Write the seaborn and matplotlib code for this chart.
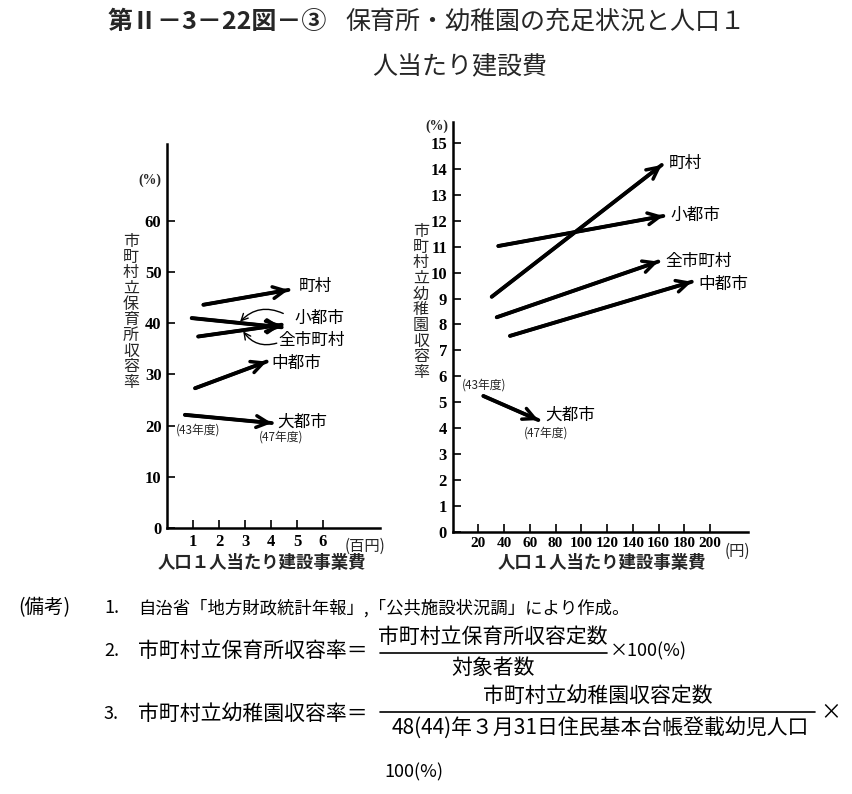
import matplotlib
matplotlib.use("Agg")
import matplotlib.pyplot as plt
import seaborn as sns
import pandas as pd
from matplotlib.lines import Line2D

# left panel: nursery school capacity (%) vs construction cost per person (100 yen)
left_regions = ["町村", "小都市", "全市町村", "中都市", "大都市"]
left_cost43 = [1.40, 0.95, 1.20, 1.08, 0.69]
left_rate43 = [43.6, 41.0, 37.4, 27.3, 22.1]
left_cost47 = [4.67, 4.41, 4.41, 3.83, 4.03]
left_rate47 = [46.5, 39.2, 39.7, 32.5, 20.5]

# right panel: kindergarten capacity (%) vs construction cost per person (yen)
right_regions = ["町村", "小都市", "全市町村", "中都市", "大都市"]
right_cost43 = [30.4, 35.5, 34.3, 44.6, 23.9]
right_rate43 = [9.07, 11.03, 8.28, 7.56, 5.24]
right_cost47 = [162.5, 163.7, 159.8, 185.8, 66.6]
right_rate47 = [14.16, 12.19, 10.43, 9.65, 4.31]

left_xticks = [1, 2, 3, 4, 5, 6]
left_yticks = [0, 10, 20, 30, 40, 50, 60]
right_xticks = [20, 40, 60, 80, 100, 120, 140, 160, 180, 200]
right_yticks = list(range(0, 16))

W, H = 852, 794


def px(x, y):
    return x / W, 1 - y / H


sns.set_theme(style="ticks")
plt.rcParams['font.family'] = ['Noto Sans CJK JP', 'DejaVu Sans']

fig = plt.figure(figsize=(W / 100, H / 100), dpi=100)
fig.patch.set_facecolor("white")

axL = fig.add_axes([167 / W, 1 - 528 / H, 213 / W, 384 / H])
axR = fig.add_axes([452.6 / W, 1 - 531.7 / H, 295.4 / W, 410 / H])


def draw_panel(ax, x43, y43, x47, y47):
    df = pd.DataFrame({
        "region": list(range(len(x43))) * 2,
        "cost": x43 + x47,
        "rate": y43 + y47,
    })
    sns.lineplot(data=df, x="cost", y="rate", units="region", estimator=None,
                 color="black", lw=2.8, ax=ax, legend=False, sort=False)
    for a, b, c, d in zip(x43, y43, x47, y47):
        ax.annotate("", xy=(c, d), xytext=(a, b),
                    arrowprops=dict(arrowstyle="->,head_length=0.7,head_width=0.35",
                                    color="black", lw=2.5, shrinkA=0, shrinkB=0))


def style_axis(ax, xlim, ylim, xticks, yticks, xsize):
    ax.set_xlim(*xlim)
    ax.set_ylim(*ylim)
    ax.set_xticks(xticks)
    ax.set_yticks(yticks)
    ax.set_xlabel("")
    ax.set_ylabel("")
    ax.set_facecolor("white")
    for s in ["top", "right"]:
        ax.spines[s].set_visible(False)
    for s in ["left", "bottom"]:
        ax.spines[s].set_linewidth(1.8)
        ax.spines[s].set_color("black")
    ax.tick_params(direction="in", length=6, width=1.2, colors="black", pad=4)
    for lab in ax.get_yticklabels():
        lab.set_family("Liberation Serif")
        lab.set_fontweight("bold")
        lab.set_fontsize(12)
    for lab in ax.get_xticklabels():
        lab.set_family("Liberation Serif")
        lab.set_fontweight("bold")
        lab.set_fontsize(xsize)


draw_panel(axL, left_cost43, left_rate43, left_cost47, left_rate47)
style_axis(axL, (0, 8.19), (0, 75), left_xticks, left_yticks, 12)
draw_panel(axR, right_cost43, right_rate43, right_cost47, right_rate47)
style_axis(axR, (0, 229.5), (0, 15.83), right_xticks, right_yticks, 11)

lab_kw = dict(fontsize=12, color="black", va="center", ha="left")
# left panel labels
axL.text(5.05, 47.2, left_regions[0], **lab_kw)
axL.text(4.9, 41.0, left_regions[1], **lab_kw)
axL.text(4.3, 36.7, left_regions[2], **lab_kw)
axL.text(4.0, 32.1, left_regions[3], **lab_kw)
axL.text(4.25, 20.6, left_regions[4], **lab_kw)
axL.text(3.55, 17.7, "(47年度)", fontsize=8.5, va="center", ha="left")
axL.text(0.35, 19.2, "(43年度)", fontsize=8.5, va="center", ha="left")
axL.annotate("", xy=(2.81, 40.3), xytext=(4.47, 41.9),
             arrowprops=dict(arrowstyle="->", color="black", lw=1.0,
                             connectionstyle="arc3,rad=0.35", shrinkA=0, shrinkB=0))
axL.annotate("", xy=(2.93, 38.4), xytext=(4.22, 36.1),
             arrowprops=dict(arrowstyle="->", color="black", lw=1.0,
                             connectionstyle="arc3,rad=-0.35", shrinkA=0, shrinkB=0))
axL.text(-0.65, 68, "(%)", fontsize=10, ha="center", va="center",
         family="Liberation Serif", fontweight="bold")
axL.text(7.6, -3.6, "(百円)", fontsize=11, ha="center", va="center", clip_on=False)

# right panel labels
axR.text(167.6, 14.2, right_regions[0], **lab_kw)
axR.text(169.0, 12.2, right_regions[1], **lab_kw)
axR.text(165.0, 10.45, right_regions[2], **lab_kw)
axR.text(191.0, 9.56, right_regions[3], **lab_kw)
axR.text(72.0, 4.5, right_regions[4], **lab_kw)
axR.text(55.0, 3.8, "(47年度)", fontsize=8.5, va="center", ha="left")
axR.text(7.0, 5.66, "(43年度)", fontsize=8.5, va="center", ha="left")
axR.text(-12, 15.65, "(%)", fontsize=10, ha="center", va="center",
         family="Liberation Serif", fontweight="bold", clip_on=False)
axR.text(221, -0.75, "(円)", fontsize=11, ha="center", va="center", clip_on=False)

# vertical y labels and x labels
fig.text(*px(131, 312), "\n".join("市町村立保育所収容率"), fontsize=11.5,
         ha="center", va="center", linespacing=0.9)
fig.text(*px(421, 302), "\n".join("市町村立幼稚園収容率"), fontsize=11.5,
         ha="center", va="center", linespacing=0.9)
fig.text(*px(262, 563), "人口１人当たり建設事業費", fontsize=12.5, fontweight="bold",
         ha="center", va="center")
fig.text(*px(602, 563), "人口１人当たり建設事業費", fontsize=12.5, fontweight="bold",
         ha="center", va="center")

# title
fig.text(*px(108, 22), "第Ⅱ－3－22図－③", fontsize=18, fontweight="bold",
         ha="left", va="center")
fig.text(*px(345, 22), "保育所・幼稚園の充足状況と人口１", fontsize=18,
         ha="left", va="center")
fig.text(*px(460, 66), "人当たり建設費", fontsize=18, ha="center", va="center")

# notes
nk = dict(va="center", color="black")
fig.text(*px(18, 608), "(備考)", ha="left", fontsize=14, **nk)
fig.text(*px(104, 608), "1.", ha="left", fontsize=13, **nk)
fig.text(*px(138, 608), "自治省「地方財政統計年報」,「公共施設状況調」により作成。",
         ha="left", fontsize=12.5, **nk)
fig.text(*px(104, 651), "2.", ha="left", fontsize=13, **nk)
fig.text(*px(138, 651), "市町村立保育所収容率＝", ha="left", fontsize=15, **nk)
fig.text(*px(493, 637), "市町村立保育所収容定数", ha="center", fontsize=15, **nk)
fig.text(*px(493, 668), "対象者数", ha="center", fontsize=15, **nk)
fig.add_artist(Line2D([380 / W, 607 / W], [1 - 653 / H, 1 - 653 / H],
                      transform=fig.transFigure, color="black", lw=1.2))
fig.text(*px(610, 651), "×100(%)", ha="left", fontsize=13, **nk)
fig.text(*px(104, 714), "3.", ha="left", fontsize=13, **nk)
fig.text(*px(138, 714), "市町村立幼稚園収容率＝", ha="left", fontsize=15, **nk)
fig.text(*px(598, 696), "市町村立幼稚園収容定数", ha="center", fontsize=15, **nk)
fig.add_artist(Line2D([380 / W, 815 / W], [1 - 712 / H, 1 - 712 / H],
                      transform=fig.transFigure, color="black", lw=1.2))
fig.text(*px(600, 729), "48(44)年３月31日住民基本台帳登載幼児人口", ha="center",
         fontsize=15, **nk)
fig.text(*px(820, 712), "×", ha="left", fontsize=15, **nk)
fig.text(*px(384, 772), "100(%)", ha="left", fontsize=13, **nk)

fig.savefig("out.png", dpi=100, facecolor="white")
